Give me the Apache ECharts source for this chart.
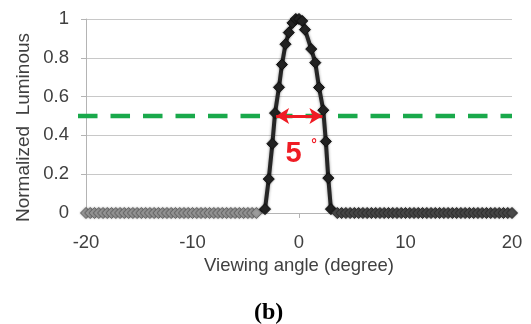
<!DOCTYPE html>
<html><head><meta charset="utf-8">
<script src="https://cdn.jsdelivr.net/npm/echarts@6/dist/echarts.min.js"></script>
<style>html,body{margin:0;padding:0;background:#fff}#c{width:531px;height:324px}</style>
</head><body><div id="c"></div>
<script>
// Flat (zero) region on the negative side
const leftFlatAngle = [-20, -19.6, -19.2, -18.8, -18.4, -18, -17.6, -17.2, -16.8, -16.4, -16, -15.6, -15.2, -14.8, -14.4, -14, -13.6, -13.2, -12.8, -12.4, -12, -11.6, -11.2, -10.8, -10.4, -10, -9.6, -9.2, -8.8, -8.4, -8, -7.6, -7.2, -6.8, -6.4, -6, -5.6, -5.2, -4.8, -4.4, -4];
const leftFlatLum   = [0, 0, 0, 0, 0, 0, 0, 0, 0, 0, 0, 0, 0, 0, 0, 0, 0, 0, 0, 0, 0, 0, 0, 0, 0, 0, 0, 0, 0, 0, 0, 0, 0, 0, 0, 0, 0, 0, 0, 0, 0];
// Peak region
const peakAngle = [-3.19, -2.84, -2.5, -2.25, -1.88, -1.6, -1.27, -0.96, -0.61, -0.3, 0, 0.3, 0.56, 1.15, 1.53, 1.88, 2.28, 2.52, 2.75, 3.0];
const peakLum   = [0.02, 0.175, 0.357, 0.515, 0.648, 0.765, 0.87, 0.93, 0.98, 1.0, 1.0, 0.99, 0.945, 0.845, 0.775, 0.647, 0.53, 0.369, 0.18, 0.02];
// Flat (zero) region on the positive side
const rightFlatAngle = [3.6, 4, 4.4, 4.8, 5.2, 5.6, 6, 6.4, 6.8, 7.2, 7.6, 8, 8.4, 8.8, 9.2, 9.6, 10, 10.4, 10.8, 11.2, 11.6, 12, 12.4, 12.8, 13.2, 13.6, 14, 14.4, 14.8, 15.2, 15.6, 16, 16.4, 16.8, 17.2, 17.6, 18, 18.4, 18.8, 19.2, 19.6, 20];
const rightFlatLum   = [0, 0, 0, 0, 0, 0, 0, 0, 0, 0, 0, 0, 0, 0, 0, 0, 0, 0, 0, 0, 0, 0, 0, 0, 0, 0, 0, 0, 0, 0, 0, 0, 0, 0, 0, 0, 0, 0, 0, 0, 0, 0];

const halfMaxLevel = 0.5;
const fwhmStart = -2.15;
const fwhmEnd = 2.2;
const fwhmText = '5';
const degreeText = '°';
const xAxisTitle = 'Viewing angle (degree)';
const yAxisTitle = 'Normalized  Luminous';
const panelLabel = '(b)';

const FONT = 'Liberation Sans, Arial, sans-serif';
const RED = '#ef1c24';

function seg(xs, ys, color, border) {
  return xs.map((x, i) => ({ value: [x, ys[i]], itemStyle: { color: color, borderColor: border, borderWidth: 1 } }));
}
const data = [].concat(
  seg(leftFlatAngle, leftFlatLum, '#9c9c9c', '#6a6a6a'),
  seg(peakAngle, peakLum, '#222222', '#111111'),
  seg(rightFlatAngle, rightFlatLum, '#4a4a4a', '#303030')
);

const chart = echarts.init(document.getElementById('c'), null, { renderer: 'canvas' });
chart.setOption({
  animation: false,
  backgroundColor: '#ffffff',
  title: {
    text: panelLabel, left: 254, top: 301, padding: 0,
    textStyle: { fontFamily: 'Liberation Serif, Times New Roman, serif', fontWeight: 'bold', fontSize: 24, color: '#000' }
  },
  grid: { left: 86, right: 19, top: 19, bottom: 111 },
  xAxis: {
    type: 'value', min: -20, max: 20, interval: 10,
    name: xAxisTitle, nameLocation: 'middle', nameGap: 39,
    nameTextStyle: { fontFamily: FONT, fontSize: 18.5, color: '#404040' },
    axisLine: { show: true, onZero: false, lineStyle: { color: '#b4b4b4', width: 1 } },
    axisTick: { show: true, length: 5, lineStyle: { color: '#b4b4b4' } },
    axisLabel: { fontFamily: FONT, fontSize: 18.5, color: '#404040', margin: 20 },
    splitLine: { show: false }
  },
  yAxis: {
    type: 'value', min: 0, max: 1, interval: 0.2,
    axisLine: { show: true, onZero: false, lineStyle: { color: '#b4b4b4', width: 1 } },
    axisTick: { show: true, length: 5, lineStyle: { color: '#b4b4b4' } },
    axisLabel: { fontFamily: FONT, fontSize: 18.5, color: '#404040', margin: 17, formatter: v => String(+v.toFixed(1)) },
    splitLine: { show: true, lineStyle: { color: '#c8c8c8', width: 1 } }
  },
  series: [{
    type: 'line', data: data, symbol: 'diamond', symbolSize: 11, showAllSymbol: true, clip: false,
    lineStyle: { color: '#262626', width: 4, shadowBlur: 3, shadowColor: 'rgba(0,0,0,0.45)' },
    itemStyle: { shadowBlur: 2, shadowColor: 'rgba(0,0,0,0.35)' },
    z: 3,
    markLine: {
      silent: true, symbol: 'none', animation: false,
      label: { show: false },
      data: [
        [
          { coord: [fwhmStart, halfMaxLevel], symbol: 'arrow', symbolSize: [12, 13], lineStyle: { color: RED, width: 3, type: 'solid' } },
          { coord: [fwhmEnd, halfMaxLevel], symbol: 'arrow', symbolSize: [12, 13] }
        ]
      ]
    }
  }]
});

// Half-maximum reference line (slightly overshooting the left axis as in the original)
const gStart = chart.convertToPixel({ gridIndex: 0 }, [-20.75, halfMaxLevel]);
const gEnd = chart.convertToPixel({ gridIndex: 0 }, [20, halfMaxLevel]);
const p5 = chart.convertToPixel({ gridIndex: 0 }, [-0.52, 0.303]);
const pDeg = chart.convertToPixel({ gridIndex: 0 }, [1.41, 0.35]);
chart.setOption({
  graphic: [
    { type: 'line', id: 'halfmax', z: 2, silent: true,
      shape: { x1: gStart[0], y1: gStart[1], x2: gEnd[0], y2: gEnd[1] },
      style: { stroke: '#19a94b', lineWidth: 4.5, lineDash: [19.5, 13] } },
    { type: 'text', id: 'ytitle', x: 24, y: 127.5, rotation: Math.PI / 2,
      style: { text: yAxisTitle, fontFamily: FONT, fontSize: 19, fill: '#404040', align: 'center', verticalAlign: 'middle' } },
    { type: 'text', id: 'five', x: p5[0], y: p5[1], z: 10,
      style: { text: fwhmText, fontFamily: FONT, fontWeight: 'bold', fontSize: 29, fill: RED, align: 'center', verticalAlign: 'middle' } },
    { type: 'text', id: 'deg', x: pDeg[0], y: pDeg[1], z: 10,
      style: { text: degreeText, fontFamily: FONT, fontWeight: 'bold', fontSize: 14, fill: RED, align: 'center', verticalAlign: 'middle' } }
  ]
});
</script>
</body></html>
